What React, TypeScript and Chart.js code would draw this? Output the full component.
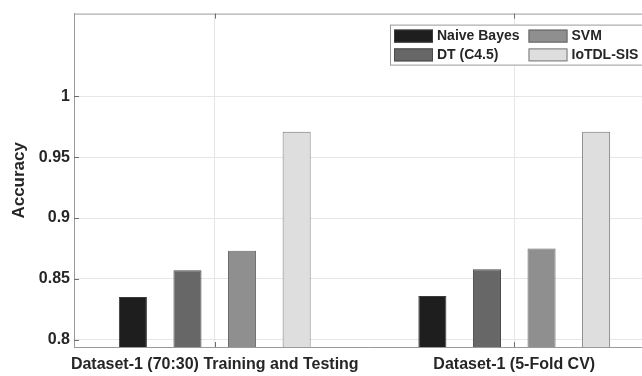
import { useEffect, useRef } from 'react';
import { Chart, registerables } from 'chart.js';

Chart.register(...registerables);

// ---- data ----
const categories = ['Dataset-1 (70:30) Training and Testing', 'Dataset-1 (5-Fold CV)'];
const xPositions = [1, 2];
const seriesNames = ['Naive Bayes', 'DT (C4.5)', 'SVM', 'IoTDL-SIS'];
const naiveBayes = [0.835, 0.836];
const dtC45 = [0.857, 0.858];
const svm = [0.873, 0.875];
const iotdlSis = [0.971, 0.971];
const yTicks = [0.8, 0.85, 0.9, 0.95, 1];
const yTickLabels = ['0.8', '0.85', '0.9', '0.95', '1'];
const yAxisTitle = 'Accuracy';

// ---- styles ----
const seriesColors = ['#1e1e1e', '#676767', '#8f8f8f', '#dedede'];
const seriesBorders = ['#3a3a3a', '#4a4a4a', '#666666', '#777777'];
const FONT = '"Liberation Sans", Arial, Helvetica, sans-serif';
const TEXT = '#262626';

const allSeries = [naiveBayes, dtC45, svm, iotdlSis];

const framePlugin = {
  id: 'matlabFrame',
  afterDraw(chart: any) {
    const { ctx, chartArea: a, scales } = chart;
    ctx.save();
    // top and right frame
    ctx.strokeStyle = '#9a9a9a';
    ctx.lineWidth = 1;
    ctx.beginPath();
    ctx.moveTo(a.left, a.top + 0.5);
    ctx.lineTo(a.right, a.top + 0.5);
    ctx.moveTo(a.right - 0.5, a.top);
    ctx.lineTo(a.right - 0.5, a.bottom);
    ctx.stroke();
    // inner tick marks
    ctx.strokeStyle = '#6e6e6e';
    ctx.beginPath();
    yTicks.forEach((v) => {
      const y = Math.round(scales.y.getPixelForValue(v)) + 0.5;
      ctx.moveTo(a.left, y);
      ctx.lineTo(a.left + 5, y);
    });
    xPositions.forEach((v) => {
      const x = Math.round(scales.x.getPixelForValue(v)) + 0.5;
      ctx.moveTo(x, a.bottom);
      ctx.lineTo(x, a.bottom - 5);
      ctx.moveTo(x, a.top);
      ctx.lineTo(x, a.top + 5);
    });
    ctx.stroke();

    // legend box (north-east, inside axes)
    const bx = a.left + 316;
    const by = a.top + 11;
    const bw = 258;
    const bh = 41;
    ctx.fillStyle = '#ffffff';
    ctx.fillRect(bx, by, bw, bh);
    ctx.strokeStyle = '#9a9a9a';
    ctx.strokeRect(bx + 0.5, by + 0.5, bw - 1, bh - 1);
    ctx.font = `bold 14px ${FONT}`;
    ctx.textBaseline = 'middle';
    ctx.textAlign = 'left';
    chart.data.datasets.forEach((ds: any, i: number) => {
      const col = Math.floor(i / 2);
      const row = i % 2;
      const sx = bx + 4 + col * 134.5;
      const cy = by + 11.5 + row * 18.8;
      ctx.fillStyle = ds.backgroundColor;
      ctx.fillRect(sx, cy - 6.5, 39, 13);
      ctx.strokeStyle = ds.borderColor;
      ctx.strokeRect(sx + 0.5, cy - 6.5 + 0.5, 38, 12);
      ctx.fillStyle = TEXT;
      ctx.fillText(ds.label, sx + 43, cy + 0.5);
    });
    ctx.restore();
  },
};

export default function App() {
  const ref = useRef<HTMLCanvasElement | null>(null);

  useEffect(() => {
    if (!ref.current) return;
    const chart = new Chart(ref.current, {
      type: 'bar',
      data: {
        datasets: seriesNames.map((name, i) => ({
          label: name,
          data: xPositions.map((x, j) => ({ x, y: allSeries[i][j] })),
          backgroundColor: seriesColors[i],
          borderColor: seriesBorders[i],
          borderWidth: 1,
          categoryPercentage: 0.729,
          barPercentage: 0.514,
        })),
      },
      options: {
        responsive: false,
        animation: false,
        layout: { padding: { top: 12, left: 0, right: 0, bottom: 0 } },
        plugins: { legend: { display: false }, tooltip: { enabled: false } },
        scales: {
          x: {
            type: 'linear',
            min: 0.53,
            max: 2.5,
            offset: false,
            grid: { offset: false, color: '#e6e6e6', drawTicks: false },
            border: { color: '#9a9a9a', width: 1 },
            afterBuildTicks: (s: any) => {
              s.ticks = xPositions.map((v) => ({ value: v }));
            },
            afterFit: (s: any) => {
              s.height = 29;
            },
            ticks: {
              padding: 8,
              autoSkip: false,
              maxRotation: 0,
              color: TEXT,
              font: { family: FONT, size: 16, weight: 'bold' },
              callback: (v: any) => categories[xPositions.indexOf(v)] ?? '',
            },
          },
          y: {
            type: 'linear',
            min: 0.794,
            max: 1.068,
            grid: { color: '#e6e6e6', drawTicks: false },
            border: { color: '#9a9a9a', width: 1 },
            afterBuildTicks: (s: any) => {
              s.ticks = yTicks.map((v) => ({ value: v }));
            },
            afterFit: (s: any) => {
              s.width = 74;
            },
            ticks: {
              padding: 4,
              color: TEXT,
              font: { family: FONT, size: 16, weight: 'bold' },
              callback: (v: any) => yTickLabels[yTicks.indexOf(v)] ?? '',
            },
            title: {
              display: true,
              text: yAxisTitle,
              color: TEXT,
              font: { family: FONT, size: 17, weight: 'bold' },
              padding: { top: 9, bottom: 0 },
            },
          },
        },
      } as any,
      plugins: [framePlugin],
    });
    return () => chart.destroy();
  }, []);

  return (
    <div
      style={{
        position: 'fixed',
        left: 0,
        top: 0,
        width: 642,
        height: 376,
        overflow: 'hidden',
        background: '#ffffff',
      }}
    >
      <canvas ref={ref} width={664} height={376} style={{ display: 'block', width: 664, height: 376 }} />
    </div>
  );
}
